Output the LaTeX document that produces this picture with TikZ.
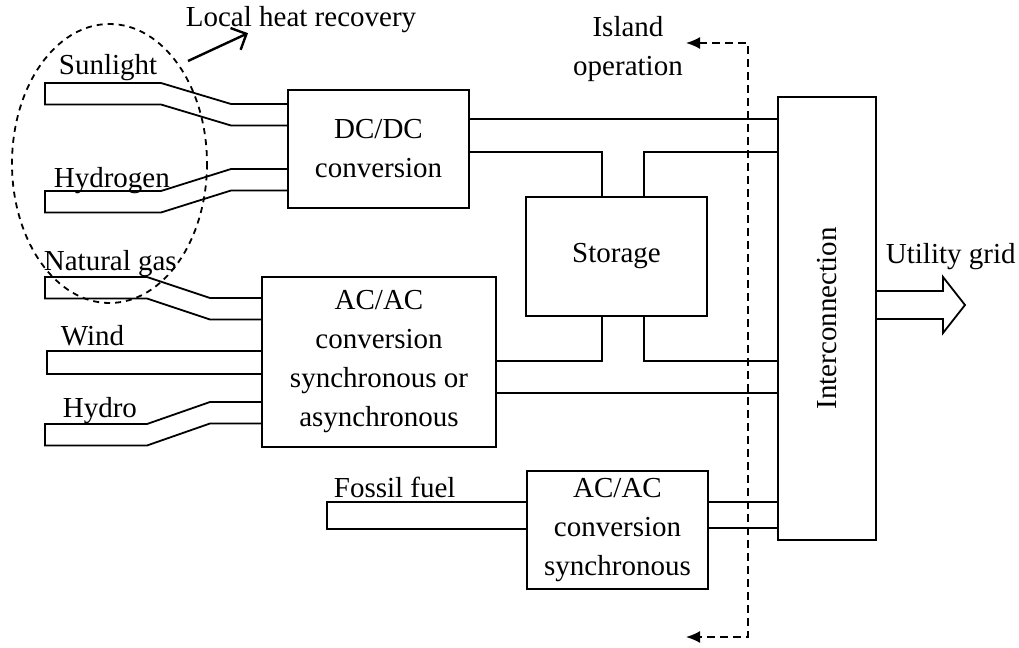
\documentclass[tikz,border=0pt]{standalone}
\usepackage{fontspec}
\setmainfont{Liberation Serif}
\usetikzlibrary{arrows.meta}

\begin{document}
\begin{tikzpicture}[x=0.5pt,y=-0.5pt,line width=0.9pt,
  font=\fontsize{14.5}{19.5}\selectfont,
  box/.style={draw,align=center,inner sep=0pt},
  lbl/.style={inner sep=0pt,anchor=base west}]
\useasboundingbox (0,0) rectangle (1019,648);
% blocks
\node[box, minimum width=90.5pt, minimum height=59pt] (dc) at (378.5,149) {DC/DC\\conversion};
\node[box, minimum width=90.5pt, minimum height=59.5pt] (st) at (616.5,256.5) {Storage};
\node[box, minimum width=117pt, minimum height=85pt] (ac) at (379,362) {AC/AC\\conversion\\synchronous or\\asynchronous};
\node[box, minimum width=90.5pt, minimum height=59pt] (acs) at (617.5,530) {AC/AC\\conversion\\synchronous};
\node[box, minimum width=49pt, minimum height=221.5pt] (ic) at (827,318.5) {};
\node[rotate=90] at (ic.center) {Interconnection};
% sources
\node[lbl] (sun) at (58,75) {Sunlight};
\node[lbl] (hyd) at (53,187) {Hydrogen};
\node[lbl] (gas) at (43,270) {Natural gas};
\node[lbl] (wind) at (60,345) {Wind};
\node[lbl] (hydro) at (62,417) {Hydro};
\node[lbl] (fossil) at (333,497) {Fossil fuel};
\node[lbl] (heat) at (185,26) {Local heat recovery};
\node[lbl] (grid) at (885,263) {Utility grid};
\node[align=center, inner sep=0pt] (island) at (628,49) {Island\\operation};
% input feeders
\foreach \b/\yl/\yr/\xa/\xb in {dc/83/104/161/231, dc/191/169/161/231,
    ac/277/298/147/210, ac/424/402/147/210}
  {\pgfmathsetmacro{\ylb}{\yl+21.5}
   \pgfmathsetmacro{\yrb}{\yr+21.5}
   \draw (\b.west |- 0,\yr) -- (\xb,\yr) -- (\xa,\yl) -- (45,\yl) -- (45,\ylb)
     -- (\xa,\ylb) -- (\xb,\yrb) -- (\b.west |- 0,\yrb);}
\draw (ac.west |- 0,351) -- (47,351) -- (47,374) -- (ac.west |- 0,374);
\draw (acs.west |- 0,502) -- (327,502) -- (327,529) -- (acs.west |- 0,529);
% links to interconnection
\draw (dc.east |- 0,119) -- (ic.west |- 0,119);
\draw (dc.east |- 0,152) -| (st.north -| 602,0);
\draw (st.north -| 644,0) |- (ic.west |- 0,152);
\draw (st.south -| 602,0) |- (ac.east |- 0,361);
\draw (st.south -| 644,0) |- (ic.west |- 0,361);
\draw (ac.east |- 0,393) -- (ic.west |- 0,393);
\draw (acs.east |- 0,502) -- (ic.west |- 0,502);
\draw (acs.east |- 0,528) -- (ic.west |- 0,528);
% output to grid
\draw (ic.east |- 0,291) -- (943,291) -- (943,277) -- (965,305) -- (943,333)
  -- (943,319) -- (ic.east |- 0,319);
% heat recovery
\draw[dash pattern=on 3pt off 2.5pt] (109.5,163.5) ellipse [x radius=97.5, y radius=139.5];
\coordinate (heatfrom) at (188,61);
\draw[line width=1.2pt, -{Straight Barb[length=6pt,width=12pt]}] (heatfrom) -- (heat.south west -| 248,0);
% island operation
\coordinate (islT) at (686,43);
\coordinate (islB) at (686,637);
\draw[dash pattern=on 4pt off 2.5pt, {Latex[length=7pt,width=6pt]}-{Latex[length=7pt,width=6pt]}]
  (islT) -- (748,43) -- (748,637) -- (islB);
\end{tikzpicture}
\end{document}
